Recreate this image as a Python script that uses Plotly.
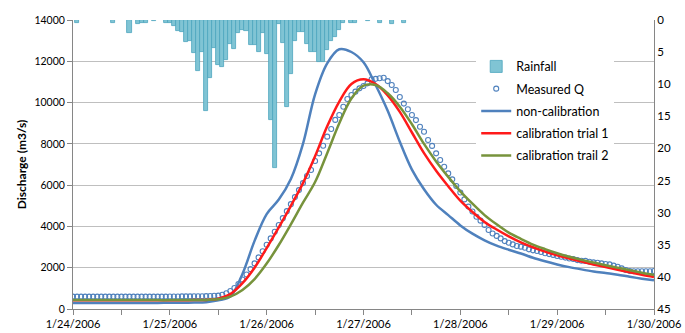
import pandas as pd
import plotly.graph_objects as go

start = pd.Timestamp("2006-01-24 00:00")

# Hourly rainfall (mm): hour index from start, depth
rain_hours = [1, 10, 14, 16, 17, 18, 20, 23, 24, 25, 26, 27, 28, 29, 30, 31, 32, 33, 34, 35,
              36, 37, 38, 39, 40, 41, 42, 43, 44, 45, 46, 47, 48, 49, 50, 51, 52, 53, 54, 55,
              56, 57, 58, 59, 60, 61, 62, 63, 64, 65, 66, 67, 69, 70, 73, 76, 79, 82]
rain_mm = [0.5, 0.5, 2.1, 0.6, 0.4, 0.5, 0.1, 0.4, 0.4, 1.0, 1.7, 1.8, 3.5, 3.3, 5.2, 7.9, 5.0, 14.2, 9.1, 4.4,
           7.0, 7.3, 6.3, 3.7, 4.5, 2.1, 1.6, 1.7, 3.9, 3.9, 5.0, 2.0, 5.3, 15.5, 23.1, 0.6, 3.6, 13.6, 8.4, 3.2,
           1.8, 1.8, 3.8, 5.0, 5.0, 6.5, 6.5, 4.7, 3.2, 2.6, 1.5, 0.4, 0.4, 0.5, 0.1, 0.5, 0.6, 0.5]

# Measured discharge, hourly (m3/s)
measured_q = [600, 600, 600, 600, 600, 600, 600, 600, 600, 600,
              600, 600, 600, 600, 600, 600, 600, 600, 600, 600,
              600, 600, 600, 600, 605, 605, 605, 610, 610, 610,
              615, 620, 620, 625, 630, 640,
              650, 690, 760, 870, 1020, 1210, 1430, 1670, 1930, 2210,
              2500, 2800, 3110, 3420, 3740, 4070, 4400, 4740, 5080, 5420,
              5760, 6100,
              6440, 6730, 7170, 7540, 7910, 8350, 8720, 9160, 9400, 9800,
              10170, 10370, 10530, 10690, 10800, 10930, 11130, 11150, 11180, 11200,
              11040, 10850, 10610, 10270, 9950, 9680, 9400, 9150,
              8830, 8590, 8190, 7900, 7540, 7220, 6890, 6570, 6280, 5960,
              5640, 5310, 4960, 4720, 4470, 4280, 4070, 3830, 3660, 3540,
              3420, 3290, 3210, 3130, 3050, 3020, 2970, 2890, 2840, 2810,
              2760, 2700, 2660, 2620, 2570, 2530, 2490, 2450, 2420, 2370,
              2340, 2330, 2290, 2260, 2240, 2210, 2180, 2160, 2100, 2050,
              1970, 1890, 1840, 1830, 1830, 1830, 1830, 1830, 1840]

# Simulated discharge, every 3 hours (m3/s)
non_calibration = [290, 290, 290, 290, 290, 290, 295, 295, 300, 300, 310,
                   330, 420, 600, 1700, 3300, 4600, 5300, 6300, 8000, 10400,
                   11900, 12580, 12450, 11950, 10850, 9600, 8100, 6750, 5800, 5050,
                   4550, 4050, 3650, 3330, 3070, 2870, 2690, 2480, 2310, 2160,
                   2030, 1920, 1820, 1740, 1660, 1560, 1470, 1390]
calibration_1 = [420, 420, 420, 420, 420, 420, 420, 420, 420, 425, 430,
                 440, 500, 720, 1250, 2000, 2950, 3950, 5000, 6100, 7400,
                 8850, 10050, 10900, 11130, 10900, 10350, 9550, 8550, 7550, 6700,
                 5950, 5250, 4700, 4220, 3850, 3520, 3230, 2990, 2780, 2600,
                 2450, 2300, 2160, 2030, 1900, 1780, 1660, 1550]
calibration_2 = [430, 430, 430, 430, 430, 430, 430, 430, 430, 435, 435,
                 440, 470, 600, 920, 1450, 2200, 3100, 4100, 5150, 6150,
                 7550, 9000, 10200, 10820, 10850, 10450, 9800, 8950, 8000, 7150,
                 6400, 5700, 5100, 4550, 4100, 3700, 3400, 3120, 2900, 2700,
                 2530, 2380, 2250, 2120, 2000, 1880, 1760, 1650]

tick_labels = ["1/24/2006", "", "1/25/2006", "", "1/26/2006", "", "1/27/2006", "",
               "1/28/2006", "", "1/29/2006", "", "1/30/2006"]

t_meas = [start + pd.Timedelta(hours=h) for h in range(len(measured_q))]
t_sim = [start + pd.Timedelta(hours=3 * i) for i in range(len(non_calibration))]
t_rain = [start + pd.Timedelta(hours=h) for h in rain_hours]
tick_vals = [start + pd.Timedelta(hours=12 * i) for i in range(len(tick_labels))]

FONT = "Lato"
fig = go.Figure()

fig.add_trace(go.Bar(
    x=t_rain, y=rain_mm, name="Rainfall", yaxis="y", legendgroup="g1",
    width=3600 * 1000,
    marker=dict(color="rgb(128,196,212)", line=dict(color="rgb(75,165,190)", width=0.8)),
))
fig.add_trace(go.Scatter(
    x=t_meas, y=measured_q, name="Measured Q", yaxis="y2", mode="markers", legendgroup="g2",
    marker=dict(symbol="circle-open", size=5, color="#4F81BD", line=dict(width=1.1)),
))
fig.add_trace(go.Scatter(
    x=t_sim, y=non_calibration, name="non-calibration", yaxis="y2", mode="lines", legendgroup="g3",
    line=dict(color="#4F81BD", width=2.5, shape="spline"),
))
fig.add_trace(go.Scatter(
    x=t_sim, y=calibration_1, name="calibration trial 1", yaxis="y2", mode="lines", legendgroup="g4",
    line=dict(color="#FF1A1A", width=2.5, shape="spline"),
))
fig.add_trace(go.Scatter(
    x=t_sim, y=calibration_2, name="calibration trail 2", yaxis="y2", mode="lines", legendgroup="g5",
    line=dict(color="#77933C", width=2.5, shape="spline"),
))

fig.update_layout(
    width=685, height=333,
    margin=dict(l=73, r=31, t=20, b=24, autoexpand=False),
    paper_bgcolor="white", plot_bgcolor="white",
    font=dict(family=FONT, size=11, color="#000000"),
    bargap=0,
    showlegend=True,
    legend=dict(x=0.694, y=0.89, xanchor="left", yanchor="top",
                bgcolor="white", borderwidth=0, font=dict(size=12.5, family=FONT),
                tracegroupgap=3, itemwidth=30),
    xaxis=dict(
        type="date", automargin=False,
        range=[start, start + pd.Timedelta(hours=144)],
        tickvals=tick_vals, ticktext=tick_labels,
        ticks="outside", ticklen=5, tickcolor="#868686",
        showline=True, linecolor="#868686", linewidth=1,
        showgrid=False, zeroline=False,
        tickfont=dict(size=11),
    ),
    yaxis=dict(
        side="right", range=[45, 0], dtick=5, tick0=0, automargin=False,
        showgrid=False, zeroline=False,
        showline=True, linecolor="#868686", linewidth=1,
        ticks="", tickfont=dict(size=11.5),
    ),
    yaxis2=dict(
        overlaying="y", side="left", anchor="x", automargin=False,
        range=[0, 14000], dtick=2000, tick0=0, tickformat="d",
        showgrid=True, gridcolor="#BFBFBF", gridwidth=1,
        zeroline=False,
        showline=True, linecolor="#868686", linewidth=1,
        ticks="outside", ticklen=5, tickcolor="#868686",
        tickfont=dict(size=10.5),
        title=dict(text="<b>Discharge (m3/s)</b>", font=dict(size=12), standoff=5),
    ),
)

fig.write_html("out.html", config={"displayModeBar": False},
               post_script="document.body.style.margin='0px';document.body.style.overflow='hidden';")
